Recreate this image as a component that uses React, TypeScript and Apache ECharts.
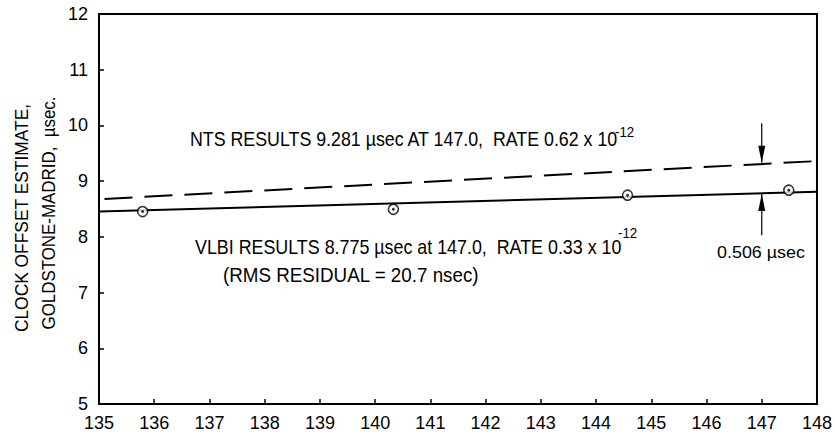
import React, { useEffect, useRef } from "react";
import * as echarts from "echarts";

const xTicks = [135, 148];
const yTicks = [5, 12];
const ntsLine = [[135.1, 8.68], [148, 9.36]];
const vlbiLine = [[135, 8.455], [148, 8.81]];
const vlbiPoints = [[135.79, 8.454], [140.33, 8.495], [144.57, 8.748], [147.49, 8.838]];
const arrowDown = [[147, 10.04], [147, 9.33]];
const arrowUp = [[147, 8.03], [147, 8.77]];

const FONT = "'Liberation Sans', Arial, sans-serif";
const TRI_DOWN = "path://M0,0L10,0L5,24Z";
const TRI_UP = "path://M5,0L10,24L0,24Z";

export default function App() {
  const ref = useRef<HTMLDivElement>(null);
  useEffect(() => {
    if (!ref.current) return;
    const chart = echarts.init(ref.current, null, { renderer: "svg" });
    const axisCommon = {
      axisLine: { show: true, lineStyle: { color: "#000", width: 2 } },
      axisTick: { show: true, inside: true, length: 5, lineStyle: { color: "#000", width: 1.5 } },
      axisLabel: { color: "#000", fontSize: 18, fontFamily: FONT },
      splitLine: { show: false },
    };
    const txt = (x: number, y: number, text: string, size: number, sx: number, extra: any = {}) => ({
      type: "text", x, y, scaleX: sx, ...extra,
      style: { text, fontSize: size, fontFamily: FONT, fill: "#000", align: extra.align || "left", verticalAlign: "middle" },
    });
    chart.setOption({
      animation: false,
      backgroundColor: "#fff",
      grid: { left: 99, right: 15, top: 14, bottom: 30, show: true, borderColor: "#000", borderWidth: 2 },
      xAxis: { type: "value", min: xTicks[0], max: xTicks[1], interval: 1, ...axisCommon,
        axisLabel: { ...axisCommon.axisLabel, margin: 10 } },
      yAxis: { type: "value", min: yTicks[0], max: yTicks[1], interval: 1, ...axisCommon,
        axisLabel: { ...axisCommon.axisLabel, margin: 11 } },
      series: [
        { type: "line", data: ntsLine, symbol: "none", lineStyle: { color: "#000", width: 2, type: [28, 12] } },
        { type: "line", data: vlbiLine, symbol: "none", lineStyle: { color: "#000", width: 2 } },
        { type: "scatter", data: vlbiPoints, symbol: "circle", symbolSize: 10, z: 3,
          itemStyle: { color: "#fff", borderColor: "#000", borderWidth: 1.6 } },
        { type: "scatter", data: vlbiPoints, symbol: "circle", symbolSize: 3, z: 4,
          itemStyle: { color: "#000" } },
        { type: "line", z: 5, lineStyle: { color: "#000", width: 1.2 }, itemStyle: { color: "#000" },
          symbol: TRI_DOWN, symbolSize: [7, 17], symbolOffset: [0, -8.5], showAllSymbol: true,
          data: [{ value: arrowDown[0], symbol: "none" }, { value: arrowDown[1] }] },
        { type: "line", z: 5, lineStyle: { color: "#000", width: 1.2 }, itemStyle: { color: "#000" },
          symbol: TRI_UP, symbolSize: [7, 17], symbolOffset: [0, 8.5], showAllSymbol: true,
          data: [{ value: arrowUp[0], symbol: "none" }, { value: arrowUp[1] }] },
      ],
      graphic: [
        txt(22, 218, "CLOCK OFFSET ESTIMATE,", 18, 0.966, { rotation: Math.PI / 2, align: "center" }),
        txt(49, 213, "GOLDSTONE-MADRID,  \u00b5sec.", 18, 0.94, { rotation: Math.PI / 2, align: "center" }),
        txt(190, 139, "NTS RESULTS 9.281 \u00b5sec AT 147.0,  RATE 0.62 x 10", 20, 0.89),
        txt(615, 132, "-12", 14, 0.95),
        txt(195, 247, "VLBI RESULTS 8.775 \u00b5sec at 147.0,  RATE 0.33 x 10", 20, 0.893),
        txt(618, 233, "-12", 14, 0.95),
        txt(223, 275, "(RMS RESIDUAL = 20.7 nsec)", 20, 0.94),
        txt(717, 253, "0.506 \u00b5sec", 16, 1.12),
      ],
    });
    return () => chart.dispose();
  }, []);
  return <div ref={ref} style={{ width: 835, height: 434, position: "absolute", left: 0, top: 0 }} />;
}
